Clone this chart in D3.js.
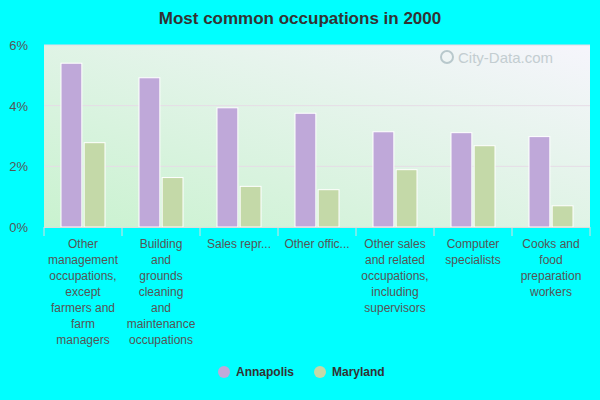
<!DOCTYPE html>
<html><head><meta charset="utf-8">
<script src="https://cdn.jsdelivr.net/npm/d3@7"></script>
<style>body{margin:0;background:#00ffff}</style></head>
<body><svg id="chart" width="600" height="400"></svg>
<script>
// Daten
const categories = ["Other management occupations, except farmers and farm managers",
  "Building and grounds cleaning and maintenance occupations", "Sales representatives",
  "Other office", "Other sales and related occupations, including supervisors",
  "Computer specialists", "Cooks and food preparation workers"];
const tickLines = [
  ["Other", "management", "occupations,", "except", "farmers and", "farm", "managers"],
  ["Building", "and", "grounds", "cleaning", "and", "maintenance", "occupations"],
  ["Sales repr..."],
  ["Other offic..."],
  ["Other sales", "and related", "occupations,", "including", "supervisors"],
  ["Computer", "specialists"],
  ["Cooks and", "food", "preparation", "workers"]];
const series = ["Annapolis", "Maryland"];
const annapolis = [5.40, 4.92, 3.93, 3.75, 3.14, 3.11, 2.98];
const maryland = [2.78, 1.63, 1.34, 1.23, 1.89, 2.68, 0.70];
const yTicks = [0, 2, 4, 6];
const colors = ["#bfa8d9", "#c4d9a8"];

const svg = d3.select("#chart");
const plotLeft = 44, plotRight = 590, plotTop = 45, plotBottom = 227;

const x = d3.scaleBand().domain(categories).range([plotLeft, plotRight]);
const xs = d3.scaleBand().domain(series).range([17, 61]).paddingInner(0.1);
const y = d3.scaleLinear().domain([0, 6]).range([plotBottom, plotTop]);

// Hintergrundverlauf
const grad = svg.append("defs").append("linearGradient")
    .attr("id", "bg").attr("x1", "0%").attr("y1", "100%").attr("x2", "100%").attr("y2", "0%");
grad.append("stop").attr("offset", "0%").attr("stop-color", "#c9f2cf");
grad.append("stop").attr("offset", "100%").attr("stop-color", "#f6f5fc");
svg.append("rect").attr("x", plotLeft).attr("y", plotTop)
    .attr("width", plotRight - plotLeft).attr("height", plotBottom - plotTop).attr("fill", "url(#bg)");

// Gitterlinien
svg.append("g").selectAll("line").data(yTicks.filter(d => d > 0)).join("line")
    .attr("x1", plotLeft).attr("x2", plotRight).attr("y1", d => y(d)).attr("y2", d => y(d))
    .attr("stroke", "#e6dce6").attr("stroke-width", 1);

// Wasserzeichen
svg.append("text").attr("x", 458).attr("y", 63)
    .attr("font-family", "Arial, sans-serif").attr("font-size", 15)
    .attr("fill", "#b8c4c8").attr("opacity", 0.8).text("City-Data.com");
svg.append("circle").attr("cx", 447).attr("cy", 57).attr("r", 6)
    .attr("fill", "none").attr("stroke", "#b8c8cc").attr("stroke-width", 2);

// Balken
const groups = svg.append("g").selectAll("g").data(categories).join("g")
    .attr("transform", d => `translate(${x(d)},0)`);
groups.selectAll("rect").data((d, i) => [annapolis[i], maryland[i]]).join("rect")
    .attr("x", (d, j) => xs(series[j]))
    .attr("width", xs.bandwidth())
    .attr("y", d => y(d))
    .attr("height", d => plotBottom - y(d))
    .attr("fill", (d, j) => colors[j])
    .attr("stroke", "#fff").attr("stroke-width", 1);

// Y-Achse
svg.append("g").selectAll("text").data(yTicks).join("text")
    .attr("x", 28).attr("y", d => y(d) + 5).attr("text-anchor", "end")
    .attr("font-family", "Arial, sans-serif").attr("font-size", 13).attr("fill", "#555")
    .text(d => d + "%");

// X-Achse
svg.append("line").attr("x1", plotLeft).attr("x2", plotRight).attr("y1", plotBottom + 0.5).attr("y2", plotBottom + 0.5)
    .attr("stroke", "#dddddd");
svg.append("g").selectAll("line").data(categories.concat(["end"])).join("line")
    .attr("x1", (d, i) => plotLeft + i * x.bandwidth()).attr("x2", (d, i) => plotLeft + i * x.bandwidth())
    .attr("y1", plotBottom).attr("y2", plotBottom + 9).attr("stroke", "#dddddd");
const labels = svg.append("g").selectAll("text").data(categories).join("text")
    .attr("text-anchor", "middle")
    .attr("font-family", "Arial, sans-serif").attr("font-size", 12).attr("fill", "#555");
labels.each(function(d, i) {
    d3.select(this).selectAll("tspan").data(tickLines[i]).join("tspan")
        .attr("x", x(d) + x.bandwidth() / 2)
        .attr("y", (t, k) => 248 + k * 16)
        .text(t => t);
});

// Titel
svg.append("text").attr("x", 300).attr("y", 24).attr("text-anchor", "middle")
    .attr("font-family", "Arial, sans-serif").attr("font-size", 17).attr("font-weight", "bold")
    .attr("fill", "#333").text("Most common occupations in 2000");

// Legende
const legendX = [224, 320];
const legend = svg.append("g").selectAll("g").data(series).join("g")
    .attr("transform", (d, i) => `translate(${legendX[i]},372)`);
legend.append("circle").attr("r", 6).attr("fill", (d, i) => colors[i]);
legend.append("text").attr("x", 12).attr("y", 4)
    .attr("font-family", "Arial, sans-serif").attr("font-size", 12).attr("font-weight", "bold")
    .attr("fill", "#333").text(d => d);
</script></body></html>
